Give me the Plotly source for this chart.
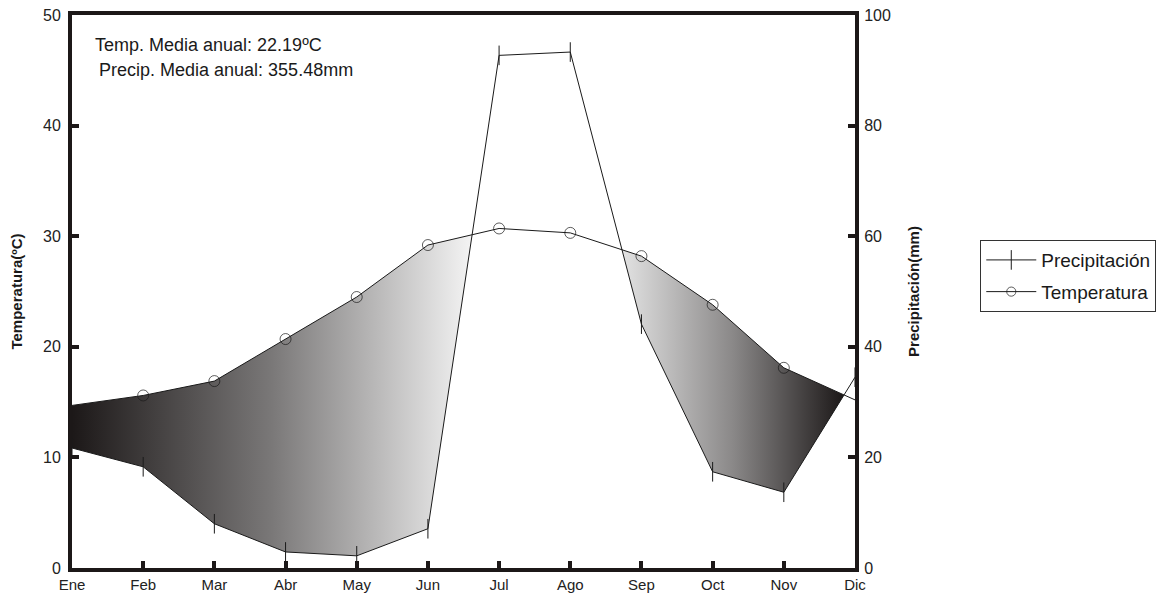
import plotly.graph_objects as go

# Monthly climate data
months = ["Ene", "Feb", "Mar", "Abr", "May", "Jun", "Jul", "Ago", "Sep", "Oct", "Nov", "Dic"]
temperatura = [14.7, 15.6, 16.9, 20.7, 24.5, 29.2, 30.7, 30.3, 28.2, 23.8, 18.1, 15.2]
precipitacion = [21.7, 18.3, 8.0, 2.9, 2.2, 7.1, 92.7, 93.3, 44.1, 17.4, 13.7, 34.5]

temp_axis_ticks = [0, 10, 20, 30, 40, 50]
prec_axis_ticks = [0, 20, 40, 60, 80, 100]

FONT = "Arial, Liberation Sans, sans-serif"
xs = list(range(len(months)))
# precipitation expressed in temperature units (P = 2T scale)
p_half = [p / 2 for p in precipitacion]


def dry_polygons(x, t, p):
    """Regions where the temperature curve lies above the precipitation curve."""
    polys = []
    cur = None
    for i in range(len(x)):
        d = t[i] - p[i]
        if d >= 0:
            if cur is None:
                cur = {"top": [], "bot": []}
            cur["top"].append((x[i], t[i]))
            cur["bot"].append((x[i], p[i]))
        if i + 1 < len(x):
            d2 = t[i + 1] - p[i + 1]
            if (d >= 0) != (d2 >= 0):
                f = d / (d - d2)
                xc = x[i] + f * (x[i + 1] - x[i])
                yc = t[i] + f * (t[i + 1] - t[i])
                if cur is None:
                    cur = {"top": [], "bot": []}
                cur["top"].append((xc, yc))
                cur["bot"].append((xc, yc))
                if d >= 0:
                    polys.append(cur)
                    cur = None
    if cur is not None:
        polys.append(cur)
    return polys


fig = go.Figure()

polys = dry_polygons(xs, temperatura, p_half)
for k, poly in enumerate(polys):
    pts = poly["top"] + poly["bot"][::-1]
    px = [a for a, _ in pts] + [pts[0][0]]
    py = [b for _, b in pts] + [pts[0][1]]
    first_x = poly["top"][0][0]
    # dark at the year's ends, lighter towards the humid season
    if first_x <= 0.01:
        scale = [[0, "#1c1818"], [0.5, "#7a7878"], [1, "#f4f4f4"]]
    else:
        scale = [[0, "#e2e2e2"], [0.5, "#8a8888"], [1, "#1c1818"]]
    fig.add_trace(go.Scatter(
        x=px, y=py, mode="none", fill="toself",
        fillgradient=dict(type="horizontal", colorscale=scale),
        showlegend=False, hoverinfo="skip",
    ))

fig.add_trace(go.Scatter(
    x=xs, y=precipitacion, name="Precipitación", yaxis="y2",
    mode="lines+markers", legendgroup="p",
    line=dict(color="#1a1a1a", width=1),
    marker=dict(symbol="line-ns", size=14, line=dict(color="#1a1a1a", width=1)),
))

fig.add_trace(go.Scatter(
    x=xs, y=temperatura, name="Temperatura",
    mode="lines+markers", legendgroup="t",
    line=dict(color="#1a1a1a", width=1),
    marker=dict(symbol="circle-open", size=[0] + [11] * (len(xs) - 2) + [0],
                color="#1a1a1a", line=dict(width=1)),
))

fig.add_annotation(x=0.027, y=0.946, xref="paper", yref="paper", xanchor="left",
                   yanchor="middle", showarrow=False,
                   text="Temp. Media anual: 22.19ºC",
                   font=dict(family=FONT, size=18, color="#1a1a1a"))
fig.add_annotation(x=0.032, y=0.901, xref="paper", yref="paper", xanchor="left",
                   yanchor="middle", showarrow=False,
                   text="Precip. Media anual: 355.48mm",
                   font=dict(family=FONT, size=18, color="#1a1a1a"))

axis_line = dict(showline=True, linecolor="#1c1818", linewidth=4,
                 ticks="inside", ticklen=7, tickwidth=4, tickcolor="#1c1818",
                 showgrid=False, zeroline=False, automargin=False)

fig.update_layout(
    width=1175, height=596,
    margin=dict(l=72, r=320, t=15, b=28),
    plot_bgcolor="white", paper_bgcolor="white",
    xaxis=dict(range=[0, 11], tickmode="array", tickvals=xs, ticktext=months,
               mirror=True, ticklabelstandoff=0,
               tickfont=dict(family=FONT, size=15, color="#222"), **axis_line),
    yaxis=dict(range=[0, 50], tickmode="array", tickvals=temp_axis_ticks,
               ticklabelstandoff=4,
               tickfont=dict(family=FONT, size=16, color="#222"),
               title=dict(text="<b>Temperatura(ºC)</b>", standoff=18,
                          font=dict(family=FONT, size=15, color="#1a1a1a")),
               **axis_line),
    yaxis2=dict(range=[0, 100], tickmode="array", tickvals=prec_axis_ticks,
                overlaying="y", side="right", ticklabelstandoff=2,
                tickfont=dict(family=FONT, size=16, color="#222"),
                title=dict(text="<b>Precipitación(mm)</b>", standoff=20,
                           font=dict(family=FONT, size=15, color="#1a1a1a")),
                **axis_line),
    legend=dict(x=1.16, y=0.593, xanchor="left", yanchor="top",
                bordercolor="#333", borderwidth=1, bgcolor="white",
                font=dict(family=FONT, size=19, color="#1a1a1a"),
                tracegroupgap=4, traceorder="grouped",
                itemwidth=50),
    showlegend=True,
)

fig.write_html("out.html")
